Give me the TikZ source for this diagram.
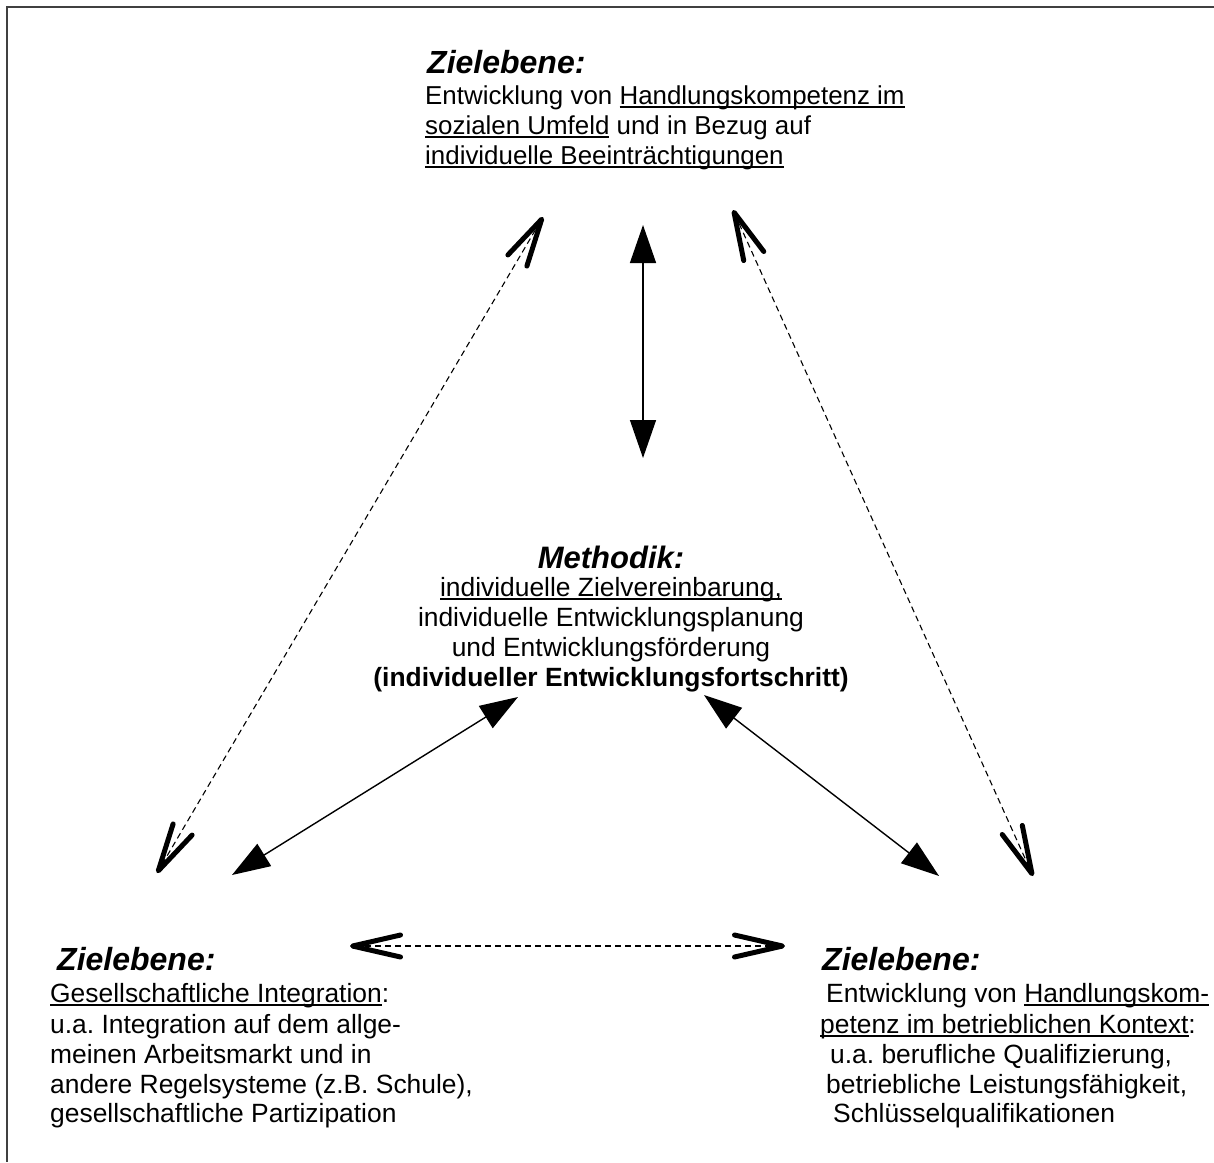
\documentclass[tikz,border=0pt]{standalone}
\usepackage{fontspec}
\setmainfont{Liberation Sans}
\usetikzlibrary{arrows.meta}
\frenchspacing
\newcommand{\myul}[1]{\setbox0\hbox{#1}\rlap{\vrule height -2pt depth 4pt width \wd0}\box0\relax}
\tikzset{
  tx/.style={anchor=base west, inner sep=0pt, font=\fontsize{26.4}{30}\selectfont},
  ttx/.style={anchor=base west, inner sep=0pt, font=\fontsize{25.9}{30}\selectfont},
  cx/.style={anchor=base, inner sep=0pt, font=\fontsize{26.4}{30}\selectfont},
  hd/.style={anchor=base west, inner sep=0pt, font=\fontsize{32}{36}\selectfont\bfseries\itshape},
  hdc/.style={anchor=base, inner sep=0pt, font=\fontsize{31}{36}\selectfont\bfseries\itshape},
  openbarb/.tip={Straight Barb[length=48pt,width=22pt,line width=5pt,round]},
  solidtri/.tip={Triangle[length=38pt,width=26pt]},
  solidcon/.style={line width=1.4pt, {solidtri}-{solidtri}},
  dashcon/.style={line width=1.1pt, dash pattern=on 6pt off 4pt, {openbarb}-{openbarb}},
}
\begin{document}
\begin{tikzpicture}[x=1pt,y=-1pt]
\useasboundingbox (0,0) rectangle (1214,1162);
\draw[line width=2pt, color=black!75] (1214,7) -- (7,7) -- (7,1162);

% top block
\node[hd] (th) at (427,73) {Zielebene:};
\node[ttx] (t1) at (425,104) {Entwicklung von \myul{Handlungskompetenz im}};
\node[ttx] (t2) at (425,134) {\myul{sozialen Umfeld} und in Bezug auf};
\node[ttx] (t3) at (425,164) {\myul{individuelle Beeinträchtigungen}};

% middle block
\node[hdc] (mh) at (611,568) {Methodik:};
\node[cx] (m1) at (611,596) {\myul{individuelle Zielvereinbarung,}};
\node[cx] (m2) at (611,626) {individuelle Entwicklungsplanung};
\node[cx] (m3) at (611,656) {und Entwicklungsförderung};
\node[cx,font=\fontsize{26.4}{30}\selectfont\bfseries] (m4) at (611,686) {(individueller Entwicklungsfortschritt)};

% bottom left block
\node[hd] (lh) at (57,970) {Zielebene:};
\node[tx] (l1) at (50,1002) {\myul{Gesellschaftliche Integration}:};
\node[tx] (l2) at (50,1033) {u.a. Integration auf dem allge-};
\node[tx] (l3) at (50,1063) {meinen Arbeitsmarkt und in};
\node[tx] (l4) at (50,1093) {andere Regelsysteme (z.B. Schule),};
\node[tx] (l5) at (50,1122) {gesellschaftliche Partizipation};

% bottom right block
\node[hd] (rh) at (822,970) {Zielebene:};
\node[tx] (r1) at (826,1002) {Entwicklung von \myul{Handlungskom-}};
\node[tx] (r2) at (820,1033) {\myul{petenz im betrieblichen Kontext}:};
\node[tx] (r3) at (830,1063) {u.a. berufliche Qualifizierung,};
\node[tx] (r4) at (826,1093) {betriebliche Leistungsfähigkeit,};
\node[tx] (r5) at (833,1122) {Schlüsselqualifikationen};

% connector end points
\coordinate (vA) at (643,225);
\coordinate (vB) at (643,458);
\coordinate (lA) at (518,697);
\coordinate (lB) at (232,875);
\coordinate (rA) at (704,695);
\coordinate (rB) at (939,876);
\coordinate (dlA) at (543,217);
\coordinate (dlB) at (157,873);
\coordinate (drA) at (733,210);
\coordinate (drB) at (1033,876);
\coordinate (hA) at (350,946);
\coordinate (hB) at (785,946);

\draw[solidcon] (vA) -- (vB);
\draw[solidcon] (lA) -- (lB);
\draw[solidcon] (rA) -- (rB);
\draw[dashcon] (dlA) -- (dlB);
\draw[dashcon] (drA) -- (drB);
\draw[dashcon] (hA) -- (hB);
\end{tikzpicture}
\end{document}
